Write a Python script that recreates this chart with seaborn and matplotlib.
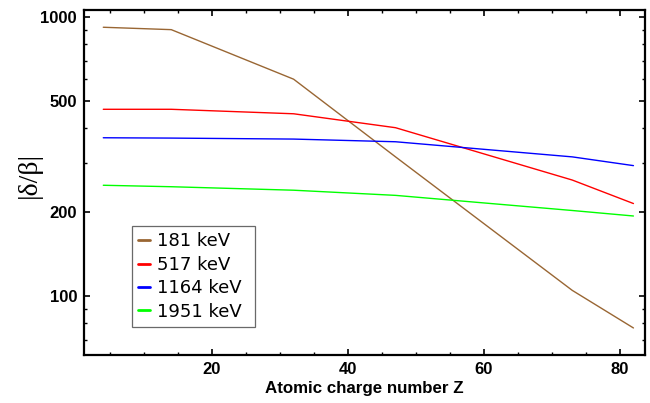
import numpy as np
import pandas as pd
import matplotlib
matplotlib.use("Agg")
import matplotlib.pyplot as plt
import seaborn as sns
from matplotlib.ticker import FixedLocator, MultipleLocator, NullFormatter

# data
z_values = [4, 14, 32, 47, 73, 82]
ratio_181 = [921, 903, 600, 316, 105, 77]
ratio_517 = [468, 468, 451, 402, 261, 215]
ratio_1164 = [370, 369, 366, 358, 316, 294]
ratio_1951 = [250, 247, 240, 230, 203, 194]
energies = ['181 keV', '517 keV', '1164 keV', '1951 keV']
line_colors = ['#996633', '#ff0000', '#0000ff', '#00ff00']

yticks_major = [100, 200, 500, 1000]
yticks_minor = [70, 80, 90, 300, 400, 600, 700, 800, 900]

sns.set_theme(style='ticks')
plt.rcParams['font.family'] = ['Liberation Sans', 'DejaVu Sans']
plt.rcParams.update({'text.color': 'black', 'axes.labelcolor': 'black',
                     'xtick.color': 'black', 'ytick.color': 'black'})

rows = []
for label, vals in zip(energies, [ratio_181, ratio_517, ratio_1164, ratio_1951]):
    for z, v in zip(z_values, vals):
        rows.append({'Z': z, 'ratio': v, 'energy': label})
df = pd.DataFrame(rows)

fig = plt.figure(figsize=(6.5, 4.03), dpi=100)
ax = fig.add_axes([0.1292, 0.1191, 0.8631, 0.8561])

sns.lineplot(data=df, x='Z', y='ratio', hue='energy', hue_order=energies,
             palette=dict(zip(energies, line_colors)), linewidth=1.0, ax=ax)

ax.set_yscale('log')
ax.set_xlim(1.16, 83.7)
ax.set_ylim(61.6, 1062)

ax.yaxis.set_major_locator(FixedLocator(yticks_major))
ax.yaxis.set_minor_locator(FixedLocator(yticks_minor))
ax.yaxis.set_minor_formatter(NullFormatter())
ax.set_yticklabels([str(t) for t in yticks_major])
ax.xaxis.set_major_locator(MultipleLocator(20))
ax.xaxis.set_minor_locator(MultipleLocator(5))

ax.tick_params(which='both', direction='in', top=True, right=True, color='black')
ax.tick_params(which='major', length=4.5, width=1.2, labelsize=12, pad=5)
ax.tick_params(which='minor', length=2.5, width=1.0)
for lab in ax.get_xticklabels() + ax.get_yticklabels():
    lab.set_fontweight('bold')

for sp in ax.spines.values():
    sp.set_linewidth(1.6)
    sp.set_color('black')

ax.set_xlabel('Atomic charge number Z', fontsize=12.2, fontweight='bold', labelpad=3)
ax.set_ylabel('|δ/β|', fontsize=20, family=['Liberation Serif', 'DejaVu Serif'])
ax.yaxis.set_label_coords(-0.075, 0.522)

leg = ax.legend(loc='lower left', bbox_to_anchor=(0.0856, 0.081, 0.219, 0.3),
                mode='expand', borderaxespad=0,
                frameon=True, fancybox=False, handlelength=0.65, handletextpad=0.4,
                labelspacing=0.3, borderpad=0.35,
                prop={'family': 'DejaVu Sans', 'size': 13})
leg.get_frame().set_edgecolor('#444444')
leg.get_frame().set_linewidth(0.9)
for line in leg.get_lines():
    line.set_linewidth(2.0)

fig.savefig('out.png', dpi=100)
